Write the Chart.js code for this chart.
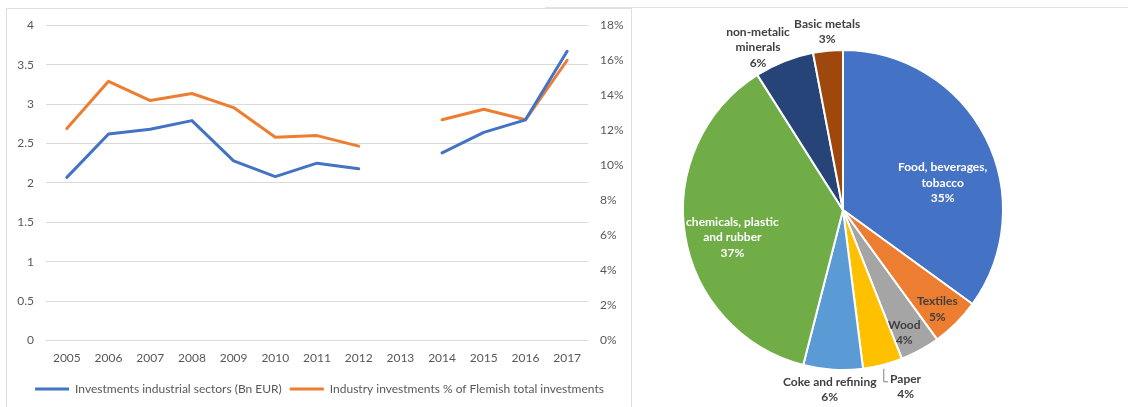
<!DOCTYPE html>
<html>
<head>
<meta charset="utf-8">
<script src="https://cdn.jsdelivr.net/npm/chart.js@4"></script>
<style>
  html, body { margin: 0; padding: 0; background: #fff; }
  body { width: 1128px; height: 407px; position: relative; overflow: hidden; }
  #lineFrame { position: absolute; left: 6px; top: 8px; width: 626px; height: 410px; border: 1px solid #dedede; box-sizing: border-box; }
  #topRule { position: absolute; left: 545px; top: 7px; width: 583px; height: 1px; background: #e2e2e2; }
  #lineWrap { position: absolute; left: 7px; top: 6px; width: 625px; height: 401px; }
  #pieWrap { position: absolute; left: 640px; top: 9px; width: 488px; height: 398px; }
</style>
</head>
<body>
<div id="topRule"></div>
<div id="lineFrame"></div>
<div id="lineWrap"><canvas id="lineChart"></canvas></div>
<div id="pieWrap"><canvas id="pieChart"></canvas></div>
<script>
// line chart data
const years = ['2005', '2006', '2007', '2008', '2009', '2010', '2011', '2012', '2013', '2014', '2015', '2016', '2017'];
const investBn = [2.07, 2.62, 2.68, 2.79, 2.28, 2.08, 2.25, 2.18, null, 2.38, 2.64, 2.80, 3.67];
const industryShare = [12.1, 14.8, 13.7, 14.1, 13.3, 11.6, 11.7, 11.1, null, 12.6, 13.2, 12.6, 16.0];
const seriesNames = ['Investments industrial sectors (Bn EUR)', 'Industry investments % of Flemish total investments'];

// pie data
const sectors = [
  ['Food, beverages,', 'tobacco'],
  ['Textiles'],
  ['Wood'],
  ['Paper'],
  ['Coke and refining'],
  ['chemicals, plastic', 'and rubber'],
  ['non-metalic', 'minerals'],
  ['Basic metals'],
];
const sectorShares = [35, 5, 4, 4, 6, 37, 6, 3];
const sectorColors = ['#4472C4', '#ED7D31', '#A5A5A5', '#FFC000', '#5B9BD5', '#70AD47', '#264478', '#9E480E'];

// label placement: [radius factor, nudge x, nudge y, text colour, leader line]
const labelPlace = [
  [0.65, 7, 20, '#ffffff', false],
  [0.86, -3, 2, '#404040', false],
  [0.86, -5, 2, '#404040', false],
  [1.12, 18, 3, '#404040', true],
  [1.12, -2, 1, '#404040', false],
  [0.70, 0, 10, '#ffffff', false],
  [1.12, -19, 4, '#404040', false],
  [1.12, 1, 0, '#404040', false],
];

const FONT = 'Lato, "Open Sans", sans-serif';
Chart.defaults.font.family = FONT;
Chart.defaults.color = '#595959';

new Chart(document.getElementById('lineChart'), {
  type: 'line',
  data: {
    labels: years,
    datasets: [
      { label: seriesNames[0], data: investBn, yAxisID: 'y', borderColor: '#4472C4', backgroundColor: '#4472C4', borderWidth: 3, pointRadius: 0, borderCapStyle: 'round', borderJoinStyle: 'round', spanGaps: false },
      { label: seriesNames[1], data: industryShare, yAxisID: 'y1', borderColor: '#ED7D31', backgroundColor: '#ED7D31', borderWidth: 3, pointRadius: 0, borderCapStyle: 'round', borderJoinStyle: 'round', spanGaps: false },
    ],
  },
  options: {
    responsive: true,
    maintainAspectRatio: false,
    animation: false,
    layout: { padding: { top: 10, bottom: 2 } },
    plugins: {
      tooltip: { enabled: false },
      legend: {
        position: 'bottom',
        labels: { color: '#595959', font: { size: 12 }, usePointStyle: true, pointStyle: 'line', pointStyleWidth: 34, padding: 8 },
      },
    },
    scales: {
      x: {
        offset: true,
        grid: { display: false, drawTicks: false },
        border: { display: false },
        ticks: { color: '#595959', font: { size: 12 }, padding: 10, maxRotation: 0, autoSkip: false },
      },
      y: {
        position: 'left',
        min: 0,
        max: 4,
        grid: { color: '#d9d9d9', drawTicks: false },
        border: { display: false },
        ticks: { stepSize: 0.5, color: '#595959', font: { size: 12 }, padding: 12, callback: v => String(v) },
        afterFit(scale) { scale.width = 39; },
      },
      y1: {
        position: 'right',
        min: 0,
        max: 18,
        grid: { display: false, drawTicks: false },
        border: { display: false },
        ticks: { stepSize: 2, color: '#595959', font: { size: 12 }, padding: 12, callback: v => v + '%' },
        afterFit(scale) { scale.width = 44; },
      },
    },
  },
});

const pieLabels = {
  id: 'pieLabels',
  afterDatasetsDraw(chart) {
    const ctx = chart.ctx;
    const meta = chart.getDatasetMeta(0);
    ctx.save();
    ctx.font = 'bold 12px ' + FONT;
    ctx.textAlign = 'center';
    ctx.textBaseline = 'middle';
    meta.data.forEach((arc, i) => {
      const p = arc.getProps(['x', 'y', 'startAngle', 'endAngle', 'outerRadius'], true);
      const mid = (p.startAngle + p.endAngle) / 2;
      const [f, dx, dy, color, leader] = labelPlace[i];
      const cx = p.x + Math.cos(mid) * p.outerRadius * f + dx;
      const cy = p.y + Math.sin(mid) * p.outerRadius * f + dy;
      const lines = sectors[i].concat(sectorShares[i] + '%');
      const lh = 15.5;
      const y0 = cy - (lines.length - 1) * lh / 2;
      ctx.fillStyle = color;
      lines.forEach((t, k) => ctx.fillText(t, cx, y0 + k * lh));
      if (leader) {
        const w = ctx.measureText(lines[0]).width;
        const ex = p.x + Math.cos(mid) * (p.outerRadius + 4);
        const ey = p.y + Math.sin(mid) * (p.outerRadius + 4);
        ctx.strokeStyle = '#7f7f7f';
        ctx.lineWidth = 1;
        ctx.beginPath();
        ctx.moveTo(ex, ey);
        ctx.lineTo(ex, y0 + 3);
        ctx.lineTo(cx - w / 2 - 2, y0 + 3);
        ctx.stroke();
      }
    });
    ctx.restore();
  },
};

new Chart(document.getElementById('pieChart'), {
  type: 'pie',
  data: {
    labels: sectors,
    datasets: [{ data: sectorShares, backgroundColor: sectorColors, borderColor: '#ffffff', borderWidth: 2 }],
  },
  options: {
    responsive: true,
    maintainAspectRatio: false,
    animation: false,
    layout: { padding: { left: 42, top: 40, right: 124, bottom: 36 } },
    plugins: { legend: { display: false }, tooltip: { enabled: false } },
  },
  plugins: [pieLabels],
});
</script>
</body>
</html>
